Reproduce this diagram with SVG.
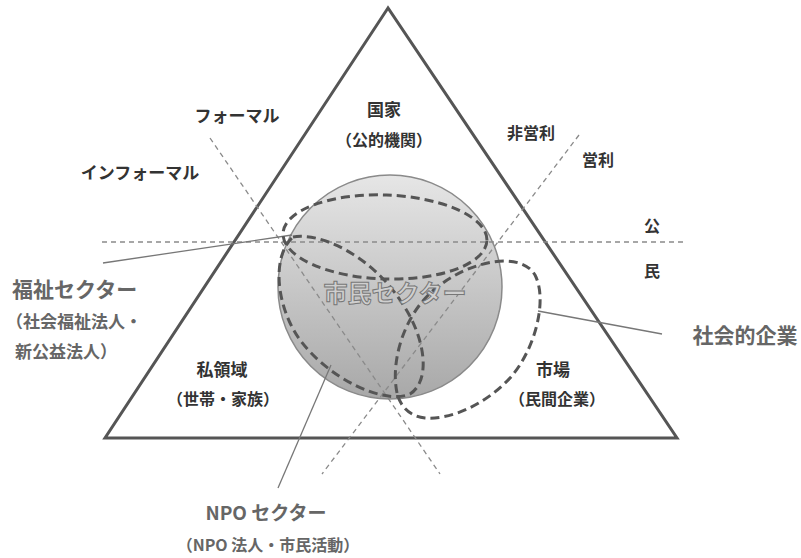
<svg xmlns="http://www.w3.org/2000/svg" width="801" height="558" viewBox="0 0 801 558">
<defs>
<linearGradient id="sphere" x1="0" y1="0" x2="0" y2="1">
<stop offset="0" stop-color="#e6e6e6"/>
<stop offset="1" stop-color="#a8a8a8"/>
</linearGradient>
<style>
.t{font-family:"Noto Sans CJK JP","Noto Sans",sans-serif;font-weight:700;fill:#333;text-anchor:middle}
.s{font-family:"Noto Sans CJK JP","Noto Sans",sans-serif;font-weight:700;fill:#666}
.axis{fill:none;stroke:#8a8a8a;stroke-width:1.3;stroke-dasharray:5 4}
.ring{fill:none;stroke:#555;stroke-width:3;stroke-dasharray:9 5}
.lead{fill:none;stroke:#777;stroke-width:1.3}
</style>
</defs>
<rect width="801" height="558" fill="#fff"/>
<g id="triangle">
<polygon points="388,8 105,438 677,438" fill="none" stroke="#555" stroke-width="3" stroke-linejoin="miter"/>
</g>
<g id="civil-sphere">
<circle cx="390" cy="287" r="112" fill="url(#sphere)" stroke="#8a8a8a" stroke-width="1.5"/>
</g>
<g id="connectors">
<line class="axis" x1="102" y1="242" x2="686" y2="242"/>
<line class="axis" x1="210" y1="138" x2="440" y2="474"/>
<line class="axis" x1="579" y1="135" x2="322" y2="474"/>
<line class="lead" x1="103" y1="263" x2="292" y2="235"/>
<line class="lead" x1="538" y1="311" x2="662" y2="334"/>
<line class="lead" x1="331" y1="365" x2="278" y2="488"/>
</g>
<g id="state-ring"><ellipse class="ring" cx="385" cy="237" rx="102" ry="42" transform="rotate(2 385 237)"/></g>
<g id="welfare-ring"><path class="ring" d="M293,237 C320,232 370,255 400,300 C425,335 432,380 410,394 C385,405 330,380 300,340 C275,305 272,255 293,237 Z"/></g>
<g id="social-enterprise-ring"><path class="ring" d="M397,393 C390,360 405,310 440,285 C470,262 520,250 535,275 C548,300 535,350 510,378 C485,405 450,420 425,418 C408,416 400,405 397,393 Z"/></g>
<g id="labels">
<text class="t" x="237" y="122" font-size="17">フォーマル</text>
<text class="t" x="140" y="179" font-size="17">インフォーマル</text>
<text class="t" x="384" y="116" font-size="17">国家</text>
<text class="t" x="384" y="146" font-size="16">（公的機関）</text>
<text class="t" x="531" y="139" font-size="16">非営利</text>
<text class="t" x="598" y="166" font-size="16">営利</text>
<text class="t" x="652" y="232" font-size="16">公</text>
<text class="t" x="652" y="277" font-size="16">民</text>
<text class="t" x="553" y="376" font-size="17">市場</text>
<text class="t" x="557" y="405" font-size="16">（民間企業）</text>
<text class="t" x="222" y="376" font-size="17">私領域</text>
<text class="t" x="223" y="405" font-size="16">（世帯・家族）</text>
<text x="395" y="302" font-size="24" text-anchor="middle" font-family="Noto Sans CJK JP,sans-serif" font-weight="700" fill="#cfcfcf" stroke="#777" stroke-width="1">市民セクター</text>
</g>
<g id="welfare-sector">
<text class="s" x="12" y="297" font-size="21">福祉セクター</text>
<text class="s" x="6" y="328" font-size="17">（社会福祉法人・</text>
<text class="s" x="15" y="358" font-size="17">新公益法人）</text>
</g>
<g id="social-enterprise">
<text class="s" x="745" y="343" font-size="21" text-anchor="middle">社会的企業</text>
</g>
<g id="npo-sector">
<text class="s" x="266" y="520" font-size="19" text-anchor="middle">NPO セクター</text>
<text class="s" x="268" y="551" font-size="16" text-anchor="middle">（NPO 法人・市民活動）</text>
</g>
</svg>
